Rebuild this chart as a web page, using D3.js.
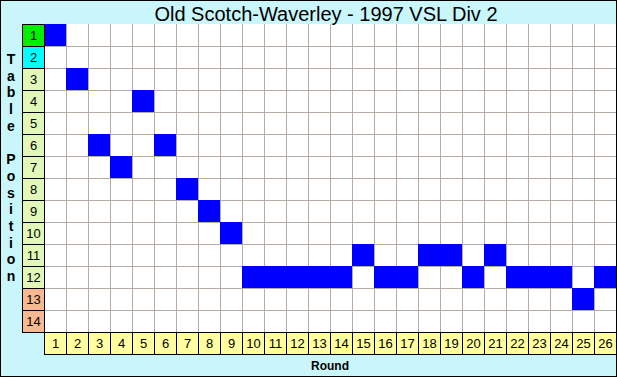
<!DOCTYPE html>
<html>
<head>
<meta charset="utf-8">
<script src="https://cdn.jsdelivr.net/npm/d3@7"></script>
<style>
body { margin: 0; background: #fff; }
text { font-family: "Liberation Sans", Arial, sans-serif; }
</style>
</head>
<body>
<script>
let title = "Old Scotch-Waverley - 1997 VSL Div 2";
let rounds = d3.range(1, 27);
let positions = d3.range(1, 15);
let ladder = [1, 3, 6, 7, 4, 6, 8, 9, 10, 12, 12, 12, 12, 12, 11, 12, 12, 11, 11, 12, 11, 12, 12, 12, 13, 12];
let yTitle = "Table Position";
let xTitle = "Round";

let width = 617,
	height = 377;

let svg = d3.select("body").append("svg").attr("width", width).attr("height", height);

// background with border
svg.append("rect")
	.attr("x", 0.5).attr("y", 0.5)
	.attr("width", width - 1).attr("height", height - 1)
	.style("fill", "#c8f6fa")
	.style("stroke", "#000");

let x = d3.scaleBand().domain(rounds).range([44, 616]);
let y = d3.scaleBand().domain(positions).range([24, 332]);

function labelColor(p) {
	if (p == 1) return "#00ee00";
	if (p == 2) return "#00ffff";
	if (p >= 13) return "#f8b890";
	return "#e2f8b8";
}

// plot area
svg.append("rect")
	.attr("x", 44).attr("y", 24)
	.attr("width", 572).attr("height", 308)
	.style("fill", "#fff");

// grid
svg.selectAll(".vgrid").data(rounds.slice(1)).enter().append("line")
	.attr("x1", d => x(d) + 0.5).attr("x2", d => x(d) + 0.5)
	.attr("y1", 24).attr("y2", 332)
	.style("stroke", "#b4aca4");
svg.selectAll(".hgrid").data(positions.slice(1)).enter().append("line")
	.attr("x1", 44).attr("x2", 616)
	.attr("y1", d => y(d) + 0.5).attr("y2", d => y(d) + 0.5)
	.style("stroke", "#b4aca4");

// ladder cells
svg.selectAll(".cell").data(ladder).enter().append("rect")
	.attr("x", (d, i) => x(rounds[i]))
	.attr("y", d => y(d))
	.attr("width", x.bandwidth())
	.attr("height", y.bandwidth())
	.style("fill", "#0000ff");

// position labels
let pl = svg.selectAll(".plab").data(positions).enter().append("g");
pl.append("rect")
	.attr("x", 22.5).attr("y", d => y(d) + 0.5)
	.attr("width", 22).attr("height", y.bandwidth())
	.style("fill", d => labelColor(d))
	.style("stroke", "#000");
pl.append("text")
	.attr("x", 33.5).attr("y", d => y(d) + 16)
	.attr("text-anchor", "middle")
	.style("font-size", "13px")
	.text(d => d);

// round labels
let rl = svg.selectAll(".rlab").data(rounds).enter().append("g");
rl.append("rect")
	.attr("x", d => x(d) + 0.5).attr("y", 332.5)
	.attr("width", x.bandwidth()).attr("height", 22)
	.style("fill", "#ffffa0")
	.style("stroke", "#000");
rl.append("text")
	.attr("x", d => x(d) + 11.5).attr("y", 348)
	.attr("text-anchor", "middle")
	.style("font-size", "13px")
	.text(d => d);

// title
svg.append("text")
	.attr("x", 326).attr("y", 21)
	.attr("text-anchor", "middle")
	.style("font-size", "20px")
	.text(title);

// y title, one letter per line
svg.selectAll(".ylet").data(yTitle.split("")).enter().append("text")
	.attr("x", 11).attr("y", (d, i) => 64 + i * 16.7)
	.attr("text-anchor", "middle")
	.style("font-size", "14px")
	.style("font-weight", "bold")
	.text(d => d);

svg.append("text")
	.attr("x", 330).attr("y", 370)
	.attr("text-anchor", "middle")
	.style("font-size", "12px")
	.style("font-weight", "bold")
	.text(xTitle);
</script>
</body>
</html>
